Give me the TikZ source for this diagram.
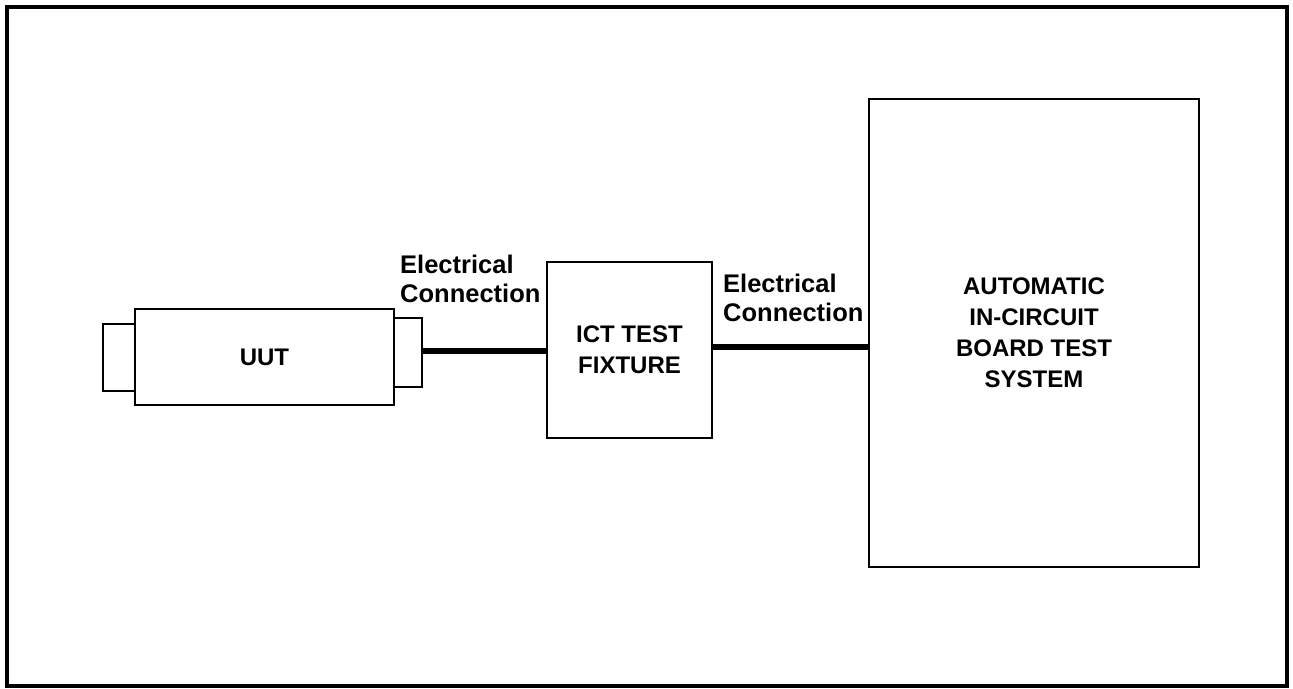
\documentclass[tikz,border=0pt]{standalone}
\usepackage{fontspec}
\setmainfont{Liberation Sans}
\tikzset{
  unit/.style={draw, line width=2.8pt, inner sep=0pt, font=\bfseries\fontsize{24}{31}\selectfont, align=center},
  wire/.style={line width=6.5pt},
  lbl/.style={font=\bfseries\fontsize{25.5}{29}\selectfont, align=left, inner sep=0pt}
}
\begin{document}
\begin{tikzpicture}[x=1pt,y=-1pt]
    \useasboundingbox (0,0) rectangle (1293,688);
    \draw[line width=3.5pt] (7,7) rectangle (1287,686);

    % unit under test with its two connectors
    \node[unit, minimum width=32pt, minimum height=67pt] (lconn) at (119,357.5) {};
    \node[unit, minimum width=259pt, minimum height=96pt] (uut) at (264.5,357) {UUT};
    \node[unit, minimum width=28pt, minimum height=69pt] (rconn) at (408,352.5) {};

    \node[unit, minimum width=165pt, minimum height=176pt] (fixture) at (629.5,350) {ICT TEST\\FIXTURE};
    \node[unit, minimum width=330pt, minimum height=468pt] (ats) at (1034,333) {AUTOMATIC\\IN-CIRCUIT\\BOARD TEST\\SYSTEM};

    \draw[wire] ([yshift=1.5pt]rconn.east) -- ([yshift=1.5pt]rconn.east -| fixture.west);
    \draw[wire] ([yshift=3pt]fixture.east) -- ([yshift=3pt]fixture.east -| ats.west);

    \node[lbl, anchor=west] (lbla) at (400,279) {Electrical\\Connection};
    \node[lbl, anchor=west] (lblb) at (723,298) {Electrical\\Connection};
\end{tikzpicture}
\end{document}
